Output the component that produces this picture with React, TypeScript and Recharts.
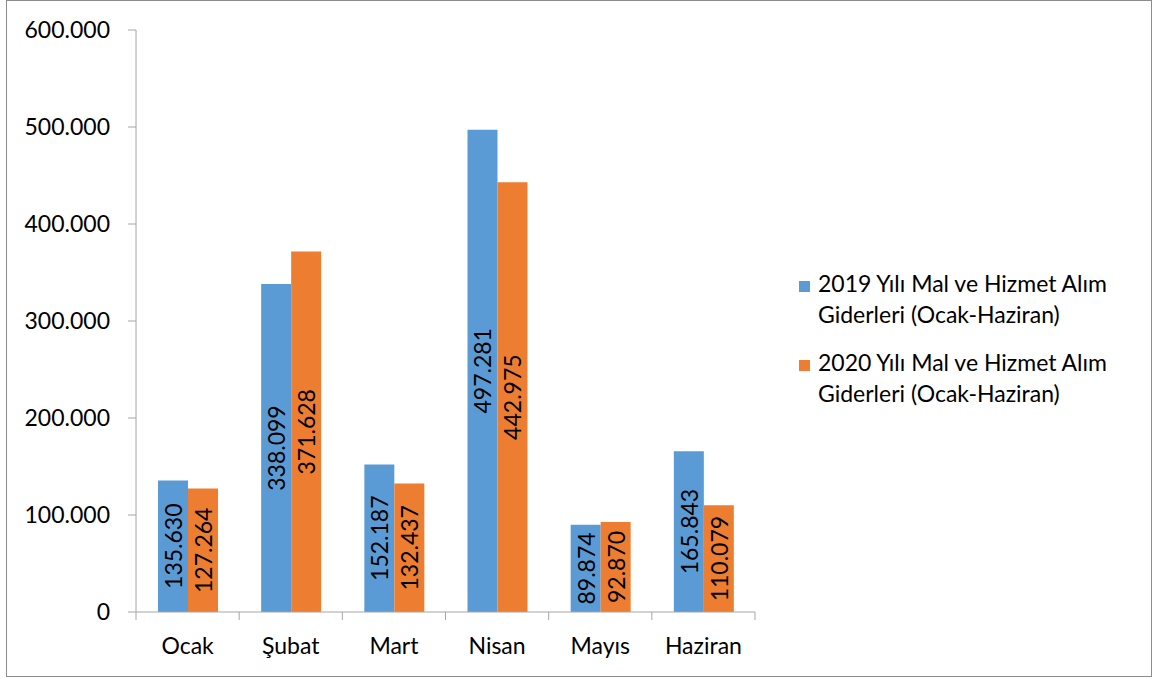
import { Bar, BarChart, XAxis, YAxis } from "recharts";

const MONTHS = ["Ocak", "Şubat", "Mart", "Nisan", "Mayıs", "Haziran"];
const SPEND_2019 = [135630, 338099, 152187, 497281, 89874, 165843];
const SPEND_2020 = [127264, 371628, 132437, 442975, 92870, 110079];
const Y_TICKS = [0, 100000, 200000, 300000, 400000, 500000, 600000];
const SERIES_NAMES = [
  ["2019 Yılı Mal ve Hizmet Alım", "Giderleri (Ocak-Haziran)"],
  ["2020 Yılı Mal ve Hizmet Alım", "Giderleri (Ocak-Haziran)"],
];

const BLUE = "#5B9BD5";
const ORANGE = "#ED7D31";
const AXIS = "#A6A6A6";
const FONT = "Lato, 'Open Sans', sans-serif";

const data = MONTHS.map((month, i) => ({ month, y2019: SPEND_2019[i], y2020: SPEND_2020[i] }));

// Excel-style number formatting: dot as thousands separator
const fmt = (v: number) => (v === 0 ? "0" : v.toLocaleString("de-DE"));

const PLOT_LEFT = 136;
const PLOT_RIGHT = 755;
const BAND = (PLOT_RIGHT - PLOT_LEFT) / MONTHS.length;

// category ticks sit between the months, like Excel's "between tick marks"
function MonthTick(props: any) {
  const { x, y, payload, index } = props;
  const axisY = y - 2;
  return (
    <g>
      <line x1={x - BAND / 2} x2={x - BAND / 2} y1={axisY} y2={axisY + 8} stroke={AXIS} />
      {index === MONTHS.length - 1 && (
        <line x1={x + BAND / 2} x2={x + BAND / 2} y1={axisY} y2={axisY + 8} stroke={AXIS} />
      )}
      <text x={x} y={axisY + 26} dy="0.71em" textAnchor="middle" fill="#000" fontSize={23} fontFamily={FONT}>
        {payload.value}
      </text>
    </g>
  );
}

function BarValue(props: any) {
  const { x, y, width, height, value } = props;
  const cx = x + width / 2;
  const cy = y + height / 2;
  return (
    <text
      x={cx}
      y={cy}
      transform={`rotate(-90 ${cx} ${cy})`}
      textAnchor="middle"
      dominantBaseline="central"
      fill="#000"
      fontSize={23}
      fontFamily={FONT}
    >
      {fmt(value)}
    </text>
  );
}

function SideLegend() {
  const colors = [BLUE, ORANGE];
  return (
    <svg width={350} height={160} style={{ position: "absolute", left: 797, top: 262 }}>
      {SERIES_NAMES.map((lines, i) => (
        <g key={i} transform={`translate(0, ${i * 79})`}>
          <rect x={2} y={19} width={11} height={11} fill={colors[i]} />
          {lines.map((ln, j) => (
            <text key={j} x={21} y={30 + j * 31} fontSize={23} fontFamily={FONT} fill="#000">
              {ln}
            </text>
          ))}
        </g>
      ))}
    </svg>
  );
}

export default function App() {
  return (
    <div style={{ position: "absolute", left: 0, top: 0, width: 1155, height: 679, background: "#fff" }}>
      <div
        style={{
          position: "absolute",
          left: 6,
          top: 0,
          width: 1146,
          height: 677,
          border: "1px solid #8C8C8C",
          boxSizing: "border-box",
        }}
      />
      <BarChart
        width={1155}
        height={679}
        data={data}
        margin={{ top: 30, right: 1155 - PLOT_RIGHT, bottom: 7, left: 0 }}
        barGap={0}
        barCategoryGap={22}
        style={{ position: "absolute", left: 0, top: 0 }}
      >
        <XAxis
          dataKey="month"
          height={60}
          axisLine={{ stroke: AXIS }}
          tickLine={false}
          tickSize={0}
          tick={<MonthTick />}
          interval={0}
          padding={{ left: 0, right: 0 }}
        />
        <YAxis
          width={PLOT_LEFT}
          domain={[0, 600000]}
          ticks={Y_TICKS}
          tickFormatter={fmt}
          axisLine={{ stroke: AXIS }}
          tickLine={{ stroke: AXIS }}
          tickSize={8}
          tickMargin={18}
          tick={{ fill: "#000", fontSize: 23, fontFamily: FONT }}
        />
        <Bar dataKey="y2019" fill={BLUE} isAnimationActive={false} label={<BarValue />} />
        <Bar dataKey="y2020" fill={ORANGE} isAnimationActive={false} label={<BarValue />} />
      </BarChart>
      <SideLegend />
    </div>
  );
}
